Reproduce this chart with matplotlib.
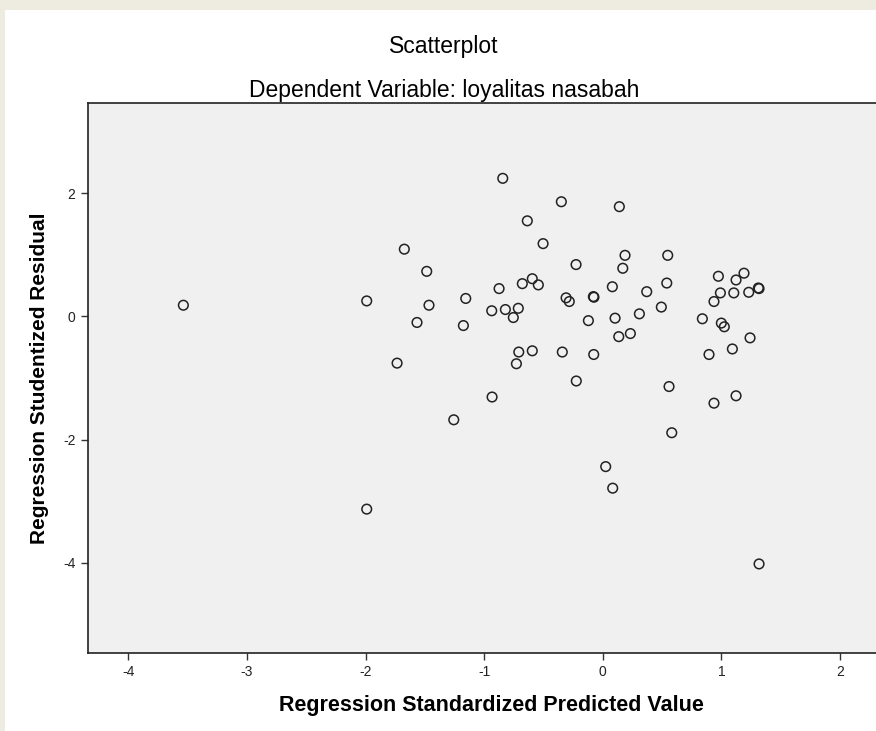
import numpy as np
import matplotlib.pyplot as plt
from matplotlib.patches import Rectangle

# regression standardized predicted value / studentized residual
pred = [-0.843, -0.349, -0.636, -0.503, -0.225, -1.673, -1.484, -1.990, -1.465, -1.566,
        -1.155, -1.175, -0.874, -0.678, -0.594, -0.543, -0.936, -0.821, -0.712, -0.754,
        -0.309, -0.282, -0.079, -0.074, -0.121, -0.708, -0.594, -0.341, -0.076, -0.728,
        -0.223, -1.734, -0.933, 0.140, 0.188, 0.548, 0.169, 0.081, 0.371, 0.540,
        0.494, 0.309, 0.104, 0.135, 0.233, 0.559, 0.582, 0.975, 1.191, 1.124,
        0.992, 1.105, 1.231, 1.312, 1.318, 0.938, 0.840, 1.000, 1.025, 1.242,
        1.093, 0.896, 1.124, 0.938, -1.256, 0.025, 0.084, -1.990, -3.536, 1.318]
resid = [2.24, 1.86, 1.55, 1.18, 0.84, 1.09, 0.73, 0.25, 0.18, -0.10,
         0.29, -0.15, 0.45, 0.53, 0.61, 0.51, 0.09, 0.11, 0.13, -0.02,
         0.30, 0.24, 0.32, 0.31, -0.07, -0.58, -0.56, -0.58, -0.62, -0.77,
         -1.05, -0.76, -1.31, 1.78, 0.99, 0.99, 0.78, 0.48, 0.40, 0.54,
         0.15, 0.04, -0.03, -0.33, -0.28, -1.14, -1.89, 0.65, 0.70, 0.59,
         0.38, 0.38, 0.39, 0.46, 0.45, 0.24, -0.04, -0.11, -0.17, -0.35,
         -0.53, -0.62, -1.29, -1.41, -1.68, -2.44, -2.79, -3.13, 0.18, -4.02]
xticks = [-4, -3, -2, -1, 0, 1, 2]
yticks = [-4, -2, 0, 2]

W, H = 876, 731
plt.rcParams['font.family'] = ['Liberation Sans', 'DejaVu Sans']
plt.rcParams['axes.unicode_minus'] = False
fig = plt.figure(figsize=(W / 100, H / 100), dpi=100)
fig.patch.set_facecolor('white')
# beige frame on the left and top of the screenshot
fig.patches.append(Rectangle((0, 0), 5 / W, 1, transform=fig.transFigure,
                             facecolor='#EEEBE1', edgecolor='none', zorder=-1))
fig.patches.append(Rectangle((0, 1 - 10 / H), 1, 10 / H, transform=fig.transFigure,
                             facecolor='#EEEBE1', edgecolor='none', zorder=-1))

ax = fig.add_axes([88 / W, 1 - 652.7 / H, (W - 88) / W, (652.7 - 103) / H])
ax.set_facecolor('#F0F0F0')
ax.scatter(pred, resid, s=48, facecolors='none', edgecolors='#222222', linewidths=1.1, zorder=3)

ax.set_xlim(-4.34, 2.304)
ax.set_ylim(-5.461, 3.463)
ax.set_xticks(xticks)
ax.set_yticks(yticks)
ax.tick_params(direction='out', length=5, width=1, color='#333333', labelsize=10,
               labelcolor='#222222', pad=4)
ax.spines['right'].set_visible(False)
for s in ['left', 'bottom', 'top']:
    ax.spines[s].set_linewidth(1.2)
    ax.spines[s].set_color('#222222')

fig.text(444 / W, 1 - 46 / H, 'Scatterplot', ha='center', va='center', fontsize=16.5)
fig.text(444 / W, 1 - 91 / H, 'Dependent Variable: loyalitas nasabah', ha='center', va='center',
         fontsize=16.5)
fig.text(491 / W, 1 - 705 / H, 'Regression Standardized Predicted Value', ha='center', va='center',
         fontsize=15.5, fontweight='bold')
fig.text(40 / W, 1 - 378 / H, 'Regression Studentized Residual', ha='center', va='center',
         rotation=90, fontsize=15, fontweight='bold')

fig.savefig('out.png', dpi=100)
